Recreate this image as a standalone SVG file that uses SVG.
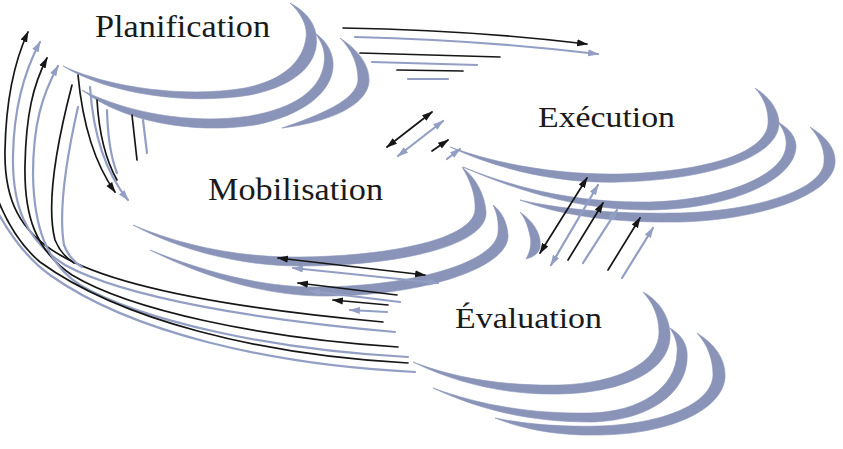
<svg xmlns="http://www.w3.org/2000/svg" width="843" height="449" viewBox="0 0 843 449">
<defs>
<style>
.sw{fill:#8a94b8;stroke:#8a94b8;stroke-width:0.6;stroke-linejoin:round}
.lbl{font-family:"Liberation Serif","Times New Roman",serif;fill:#1a1a1a}
.d{fill:none;stroke:#161616;stroke-width:1.7;stroke-linecap:round}
.l{fill:none;stroke:#929ec4;stroke-width:2.2;stroke-linecap:round}
.de{marker-end:url(#ad)}
.le{marker-end:url(#al)}
.dd{marker-start:url(#ad);marker-end:url(#ad)}
.ll{marker-start:url(#al);marker-end:url(#al)}
</style>
<marker id="ad" viewBox="0 0 10 10" refX="9" refY="5" markerWidth="11" markerHeight="11" markerUnits="userSpaceOnUse" orient="auto-start-reverse"><path d="M0,1.8 L10,5 L0,8.2 Z" fill="#161616"/></marker>
<marker id="al" viewBox="0 0 10 10" refX="9" refY="5" markerWidth="11" markerHeight="11" markerUnits="userSpaceOnUse" orient="auto-start-reverse"><path d="M0,1.8 L10,5 L0,8.2 Z" fill="#929ec4"/></marker>
</defs>
<rect width="843" height="449" fill="#ffffff"/>

<g id="planification">
<path class="sw" d="M63,66 C110,95 190,105 250,95 C300,85 320,60 316,35 C314,20 303,10 290,3 C300,12 308,25 306,38 C303,60 285,80 245,88 C185,98 110,88 63,66 Z"/>
<path class="sw" d="M82,90 C120,120 190,135 255,125 C305,115 335,90 333,62 C332,50 325,40 315,33 C322,42 326,52 324,64 C320,90 295,108 250,116 C190,125 125,112 82,90 Z"/>
<path class="sw" d="M340,38 C358,50 370,65 369,82 C367,105 330,122 282,128 C320,115 357,100 358,80 C358,64 352,50 340,38 Z"/>
<text class="lbl" x="95" y="37" font-size="32" textLength="175" lengthAdjust="spacingAndGlyphs">Planification</text>
</g>

<g id="execution">
<path class="sw" d="M450,147 C500,170 560,184 620,182 C700,180 780,160 779,122 C778,108 768,96 755,88 C764,98 769,110 768,124 C765,155 700,172 620,174 C560,175 500,165 450,147 Z"/>
<path class="sw" d="M463,167 C520,192 580,210 650,210 C730,209 797,180 796,145 C795,135 788,128 778,122 C784,130 787,138 786,146 C784,175 725,200 650,202 C580,203 520,190 463,167 Z"/>
<path class="sw" d="M810,127 C828,138 836,150 835,163 C833,195 760,220 680,222 C610,223 560,215 520,200 C565,210 615,214 680,213 C755,211 823,190 824,162 C825,150 820,138 810,127 Z"/>
<text class="lbl" x="538" y="127" font-size="29" textLength="137" lengthAdjust="spacingAndGlyphs">Exécution</text>
</g>

<g id="mobilisation">
<path class="sw" d="M133,225 C180,250 240,266 300,266 C400,266 488,245 486,212 C485,195 476,178 462,167 C470,180 476,195 475,210 C473,238 395,256 300,257 C240,258 180,245 133,225 Z"/>
<path class="sw" d="M150,250 C200,275 260,295 320,296 C420,297 510,268 508,235 C507,222 502,212 493,205 C497,213 499,222 498,233 C495,262 415,286 320,287 C260,288 200,270 150,250 Z"/>
<path class="sw" d="M520,212 C534,222 542,235 540,248 C538,254 533,257 526,259 C530,252 532,244 530,236 C528,226 525,218 520,212 Z"/>
<text class="lbl" x="208" y="200" font-size="32" textLength="175" lengthAdjust="spacingAndGlyphs">Mobilisation</text>
</g>

<g id="evaluation">
<path class="sw" d="M413,362 C460,385 510,395 560,394 C630,392 672,368 670,333 C669,315 658,300 643,292 C652,302 659,315 659,332 C659,362 620,383 560,385 C510,386 460,380 413,362 Z"/>
<path class="sw" d="M433,388 C480,410 530,422 590,422 C650,421 690,392 687,352 C686,342 680,334 670,328 C675,336 678,344 677,353 C676,388 640,412 590,413 C530,414 480,405 433,388 Z"/>
<path class="sw" d="M697,333 C716,345 726,360 725,378 C722,410 670,434 600,435 C560,436 525,430 495,418 C530,425 565,427 600,426 C660,424 712,405 713,375 C713,360 708,345 697,333 Z"/>
<text class="lbl" x="455" y="328" font-size="30" textLength="147" lengthAdjust="spacingAndGlyphs">Évaluation</text>
</g>

<g id="connectors">
<!-- Planification to Execution -->
<path class="d de" d="M343,28 Q470,30 587,44"/>
<path class="l le" d="M355,37 Q480,40 598,54"/>
<path class="d" stroke-width="2.2" d="M360,53 L500,57"/>
<path class="l" d="M372,62 L477,65"/>
<path class="d" stroke-width="2.4" d="M397,70 L463,71"/>
<path class="l" d="M408,79 L448,79"/>
<!-- Mobilisation to Execution -->
<path class="d dd" d="M387,147 L432,112"/>
<path class="l ll" d="M398,156 L443,121"/>
<path class="d de" d="M432,151 L448,140"/>
<path class="l le" d="M447,159 L460,149"/>
<!-- Execution to Evaluation -->
<path class="d dd" d="M540,253 L587,178"/>
<path class="l ll" d="M551,265 L598,185"/>
<path class="d de" d="M568,260 L603,203"/>
<path class="l le" d="M583,263 L617,210"/>
<path class="d de" d="M608,270 L640,218"/>
<path class="l le" d="M622,278 L653,228"/>
<!-- Mobilisation to Evaluation -->
<path class="d dd" d="M278,258 L425,275"/>
<path class="l ll" d="M293,268 L438,283"/>
<path class="d de" d="M397,295 L298,283"/>
<path class="l le" d="M400,302 L310,291"/>
<path class="d de" d="M388,305 L333,300"/>
<path class="l le" d="M387,312 L350,310"/>
<!-- Planification to Mobilisation -->
<path class="d de" d="M78,75 Q85,150 115,192"/>
<path class="l le" d="M90,87 Q95,160 128,200"/>
<path class="d" d="M97,100 Q100,150 117,180"/>
<path class="l" d="M107,110 Q108,150 117,173"/>
<path class="d" d="M132,115 L137,160"/>
<path class="l" d="M143,120 L147,153"/>
<!-- Evaluation back to Planification -->
<path class="d de" d="M383,322 C250,310 120,290 60,255 C20,232 4,200 5,150 C6,100 15,60 28,32"/>
<path class="l le" d="M395,332 C260,320 125,298 65,265 C25,240 12,205 13,155 C14,105 25,70 40,42"/>
<path class="d de" d="M398,347 C260,338 130,310 72,275 C35,250 24,215 25,165 C26,115 33,85 47,58"/>
<path class="l le" d="M408,357 C270,350 140,320 80,285 C45,262 34,225 33,175 C33,125 42,95 58,66"/>
<path class="d" d="M408,363 C260,355 120,320 40,262 C20,245 5,220 -5,192"/>
<path class="l" d="M415,372 C270,365 130,332 50,275 C25,257 8,232 -5,207"/>
<path class="d" d="M72,85 C55,150 46,205 55,240 C60,252 66,258 74,263"/>
<path class="l" d="M78,107 C66,160 58,210 64,245 C68,256 74,262 82,267"/>
</g>
</svg>
